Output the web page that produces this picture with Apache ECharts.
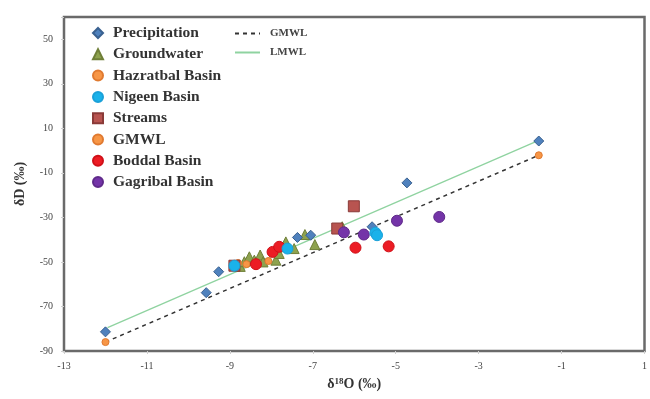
<!DOCTYPE html>
<html><head><meta charset="utf-8">
<script src="https://cdn.jsdelivr.net/npm/echarts@6/dist/echarts.min.js"></script>
<style>html,body{margin:0;padding:0;background:#fff}#c{width:650px;height:399px}</style>
</head><body><div id="c"></div>
<script>
// ---- data (δ18O, δD) ----
const precipX = [-12.0, -9.57, -9.27, -7.37, -7.05, -5.57, -4.73, -1.55];
const precipY = [-81.4, -63.8, -54.4, -39.0, -38.0, -34.2, -14.5, 4.3];
const gwX = [-8.75, -8.65, -8.53, -8.41, -8.27, -8.2, -7.89, -7.81, -7.65, -7.45, -7.19, -6.95, -6.29];
const gwY = [-52.0, -49.9, -47.7, -49.2, -46.9, -50.0, -49.2, -46.2, -41.0, -44.0, -37.7, -42.2, -34.2];
const hazX = [-8.8, -8.6, -8.07];
const hazY = [-50.5, -51.0, -49.6];
const nigX = [-8.89, -7.61, -5.49, -5.45];
const nigY = [-51.7, -44.0, -36.9, -38.0];
const strX = [-8.89, -6.41, -6.01];
const strY = [-51.7, -35.0, -25.0];
const gmwlPtX = [-12.0, -1.55];
const gmwlPtY = [-86.0, -2.1];
const bodX = [-8.37, -7.97, -7.81, -5.97, -5.17];
const bodY = [-51.0, -45.5, -43.2, -43.6, -43.0];
const gagX = [-6.25, -5.77, -4.97, -3.95];
const gagY = [-36.7, -37.7, -31.5, -29.8];
const gmwlLineX = [-12.0, -1.55];
const gmwlLineY = [-86.0, -2.1];
const lmwlLineX = [-11.95, -1.55];
const lmwlLineY = [-79.5, 4.6];
const xTicks = [-13, -11, -9, -7, -5, -3, -1, 1];
const yTicks = [-90, -70, -50, -30, -10, 10, 30, 50];

const zip = (xs, ys) => xs.map((x, i) => [x, ys[i]]);
const serif = 'Liberation Serif';

function sc(name, xs, ys, symbol, size, color, border, z) {
  return {
    name, type: 'scatter', data: zip(xs, ys), symbol, symbolSize: size, z: z || 2,
    itemStyle: { color, borderColor: border, borderWidth: 1, opacity: 1 }
  };
}

const chart = echarts.init(document.getElementById('c'), null, { renderer: 'canvas' });
chart.setOption({
  animation: false,
  backgroundColor: '#fff',
  grid: { left: 64, right: 3, top: 17, bottom: 48, show: true, borderColor: '#6a6a6a', borderWidth: 2.5, backgroundColor: 'transparent' },
  xAxis: {
    type: 'value', min: xTicks[0], max: xTicks[xTicks.length - 1], interval: 2,
    axisLine: { show: false, onZero: false }, splitLine: { show: false },
    axisTick: { show: true, inside: false, length: 3, lineStyle: { color: '#cfcfcf' } },
    axisLabel: { fontFamily: serif, fontSize: 10, color: '#444', margin: 10 },
    name: '{a|δ}{s|18}{a|O (‰)}', nameLocation: 'middle', nameGap: 26,
    nameTextStyle: { rich: {
      a: { fontFamily: serif, fontSize: 14, fontWeight: 'bold', color: '#333' },
      s: { fontFamily: serif, fontSize: 9, fontWeight: 'bold', color: '#333', verticalAlign: 'top', padding: [0, 0, 6, 0] }
    } }
  },
  yAxis: {
    type: 'value', min: yTicks[0], max: 60, interval: 20,
    axisLine: { show: false, onZero: false }, splitLine: { show: false },
    axisTick: { show: true, inside: false, length: 3, lineStyle: { color: '#cfcfcf' } },
    axisLabel: { fontFamily: serif, fontSize: 10, color: '#444', margin: 11,
      formatter: v => (yTicks.indexOf(v) >= 0 ? String(v) : '') },
    name: 'δD (‰)', nameLocation: 'middle', nameRotate: 90, nameGap: 37,
    nameTextStyle: { fontFamily: serif, fontSize: 14, fontWeight: 'bold', color: '#333' }
  },
  legend: [
    {
      data: ['Precipitation', 'Groundwater', 'Hazratbal Basin', 'Nigeen Basin', 'Streams', 'GMWL', 'Boddal Basin', 'Gagribal Basin'],
      orient: 'vertical', left: 87, top: 20, itemWidth: 10, itemHeight: 10, itemGap: 5.3,
      textStyle: { fontFamily: serif, fontSize: 15.5, fontWeight: 'bold', color: '#333', lineHeight: 16, padding: [0, 0, 0, 5] },
      selectedMode: false
    },
    {
      data: ['GMWL ', 'LMWL'],
      orient: 'vertical', left: 229, top: 23, itemWidth: 25, itemHeight: 10, itemGap: 8,
      formatter: n => n.trim(),
      itemStyle: { opacity: 0 },
      textStyle: { fontFamily: serif, fontSize: 11, fontWeight: 'bold', color: '#444', lineHeight: 10, padding: [0, 0, 0, 5] },
      selectedMode: false
    }
  ],
  series: [
    { name: 'GMWL ', type: 'line', data: zip(gmwlLineX, gmwlLineY), symbol: 'none', z: 1,
      lineStyle: { color: '#333', width: 1.5, type: [4, 4] } },
    { name: 'LMWL', type: 'line', data: zip(lmwlLineX, lmwlLineY), symbol: 'none', z: 1,
      lineStyle: { color: '#8fd3a0', width: 1.3 } },
    sc('Precipitation', precipX, precipY, 'diamond', 10, '#4f81bd', '#3a6190', 3),
    sc('Groundwater', gwX, gwY, 'triangle', 10, '#8ea24e', '#6f7f38', 2),
    sc('Hazratbal Basin', hazX, hazY, 'circle', 7, '#f79646', '#e07a30', 2),
    sc('Nigeen Basin', nigX, nigY, 'circle', 11, '#1ab2ea', '#1aa0d8', 4),
    sc('Streams', strX, strY, 'rect', 11, '#b85450', '#8a3a38', 2),
    sc('GMWL', gmwlPtX, gmwlPtY, 'circle', 7, '#f79646', '#e07a30', 2),
    sc('Boddal Basin', bodX, bodY, 'circle', 11, '#ec1c24', '#d01018', 2),
    sc('Gagribal Basin', gagX, gagY, 'circle', 11, '#7434a8', '#5f2a8a', 2)
  ]
});
</script></body></html>
